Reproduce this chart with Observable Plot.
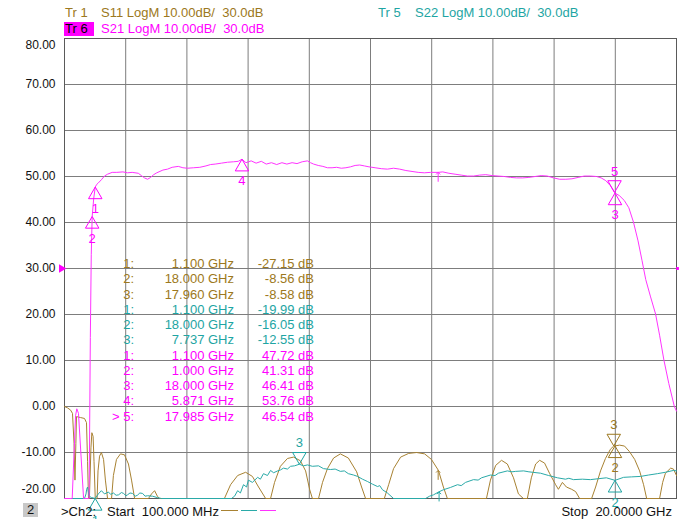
<!DOCTYPE html>
<html><head><meta charset="utf-8">
<script src="https://cdn.jsdelivr.net/npm/d3@7"></script>
<script src="https://cdn.jsdelivr.net/npm/@observablehq/plot@0.6"></script>
<style>
body{margin:0;background:#fff;}
#wrap{position:relative;width:684px;height:519px;font-family:"Liberation Sans",Arial,sans-serif;font-size:13px;overflow:hidden;background:#fff;}
#wrap svg{position:absolute;left:0;top:0;}
.t{position:absolute;white-space:pre;line-height:14px;height:14px;}
</style></head><body><div id="wrap"></div>
<script>
// ---------- data (GHz, dB) ----------
const s11 = [[0.1,0],[0.2,-0.3],[0.3,-0.8],[0.36,-1.5],[0.41,-8],[0.44,-16],[0.47,-8],[0.49,-2.2],[0.62,-2.4],[0.75,-2.6],[0.815,-3.5],[0.85,-12],[0.88,-22],[0.91,-22],[0.96,-9],[0.99,-5.7],[1.03,-6.5],[1.06,-12],[1.1,-27.15],[1.16,-22],[1.19,-14],[1.24,-10.8],[1.3,-10],[1.37,-11.5],[1.43,-16],[1.5,-22],[1.63,-22],[1.69,-15],[1.79,-11.5],[1.92,-10.3],[2.05,-10.5],[2.18,-12.5],[2.28,-16],[2.38,-22],[2.83,-22],[2.93,-19],[3.03,-18.3],[3.12,-19.5],[3.19,-22],[5.3,-22],[5.5,-17],[5.73,-15],[5.99,-14.3],[6.21,-15.2],[6.41,-17.5],[6.64,-22],[6.8,-22],[6.93,-16.5],[7.12,-13],[7.35,-11.3],[7.55,-11],[7.77,-11.8],[7.94,-14],[8.07,-18],[8.16,-22],[8.36,-22],[8.49,-16.5],[8.65,-13.5],[8.85,-11.2],[9.07,-10.3],[9.33,-11.2],[9.6,-14.2],[9.76,-17.5],[9.89,-22],[10.5,-22],[10.64,-17],[10.8,-13.5],[11.03,-11],[11.29,-10.2],[11.55,-10],[11.81,-10.3],[12.03,-11.5],[12.26,-13.9],[12.42,-17.5],[12.55,-22],[13.82,-22],[13.95,-16],[14.12,-12.8],[14.31,-11.7],[14.5,-12.5],[14.7,-15.5],[14.86,-19],[15.02,-22],[15.15,-22],[15.28,-15.5],[15.42,-12.5],[15.55,-11.7],[15.71,-12.3],[15.87,-14.5],[16.07,-17],[16.16,-18],[16.29,-16.5],[16.42,-17.5],[16.59,-18],[16.72,-18.5],[16.85,-22],[17.24,-22],[17.37,-17.5],[17.53,-14],[17.69,-11.3],[17.85,-9.3],[17.96,-8.58],[18.0,-8.56],[18.15,-8.4],[18.31,-8.6],[18.47,-9.8],[18.64,-11.5],[18.8,-14],[18.93,-17],[19.03,-22],[19.45,-22],[19.55,-16.5],[19.64,-14.5],[19.81,-13.4],[19.9,-13.6],[20.0,-15]];

const s22 = [[0.1,-25],[0.75,-25],[0.8,-19],[0.82,-18],[0.85,-17.5],[0.9,-19.5],[0.98,-19.8],[1.1,-19.99],[1.2,-19],[1.3,-18.3],[1.4,-19],[1.53,-18.6],[1.6,-19.1],[1.69,-18.8],[1.78,-19.3],[1.86,-19.2],[1.95,-18.7],[2.02,-18.9],[2.1,-19.4],[2.15,-19.2],[2.23,-18.8],[2.31,-18.9],[2.4,-19.5],[2.47,-19.3],[2.55,-18.8],[2.64,-18.9],[2.72,-19.5],[2.8,-19.4],[2.96,-19.5],[3.12,-19.8],[3.25,-21],[5.53,-21],[5.63,-19.5],[5.73,-18.3],[5.82,-18.8],[5.92,-17.0],[6.02,-17.5],[6.08,-16],[6.21,-16.5],[6.38,-15.4],[6.47,-15.8],[6.57,-14.6],[6.7,-15],[6.8,-13.9],[6.9,-14.4],[7.03,-14],[7.12,-13.8],[7.22,-13.4],[7.35,-13.6],[7.45,-13],[7.58,-12.9],[7.737,-12.55],[7.87,-12.9],[8.0,-12.7],[8.16,-13],[8.36,-12.9],[8.52,-13.5],[8.75,-13.7],[8.9,-13.6],[9.07,-14.1],[9.2,-14.0],[9.33,-14.6],[9.5,-14.9],[9.63,-15.2],[9.79,-15.8],[9.95,-16.3],[10.12,-16.9],[10.28,-17.4],[10.35,-17.2],[10.44,-18.1],[10.6,-18.8],[10.8,-21],[11.84,-21],[11.97,-19.5],[12.1,-19.2],[12.26,-18.6],[12.42,-18.1],[12.65,-17.6],[12.88,-17],[13.0,-17.2],[13.14,-16.5],[13.4,-15.9],[13.55,-16.0],[13.66,-15.5],[13.95,-14.9],[14.1,-15.0],[14.21,-14.5],[14.5,-14],[14.65,-14.2],[14.77,-14.1],[15.03,-14],[15.2,-14.2],[15.32,-14.3],[15.58,-14.5],[15.84,-15],[16.13,-15.5],[16.39,-15.8],[16.5,-15.6],[16.65,-15.9],[16.94,-15.8],[17.2,-15.9],[17.46,-15.7],[17.72,-15.5],[18.0,-16.05],[18.28,-15.4],[18.54,-15.3],[18.83,-15.2],[19.09,-14.9],[19.38,-14.6],[19.64,-14.3],[19.9,-13.9],[20.0,-14]];

const s21 = [[0.1,-25],[0.33,-25],[0.35,-20],[0.46,-2],[0.5,-0.5],[0.555,-1.5],[0.72,-20],[0.75,-25],[0.88,-25],[0.9,-20],[0.94,15],[0.97,33],[1.0,41.31],[1.05,45.2],[1.1,47.72],[1.15,48.3],[1.2,48.6],[1.3,49.3],[1.4,50.1],[1.5,50.5],[1.65,50.9],[1.8,50.9],[2.0,51.0],[2.15,50.8],[2.3,50.9],[2.5,50.7],[2.6,50.2],[2.7,49.7],[2.8,49.4],[2.9,49.8],[3.0,50.4],[3.1,50.8],[3.3,51.4],[3.45,51.6],[3.6,52.0],[3.8,52.2],[3.95,51.9],[4.1,51.8],[4.3,51.9],[4.5,52.0],[4.7,52.3],[4.85,52.6],[5.0,52.7],[5.2,52.9],[5.4,53.1],[5.6,53.2],[5.75,53.3],[5.871,53.76],[6.0,53.0],[6.17,53.4],[6.33,52.9],[6.5,53.3],[6.66,52.7],[6.83,53.0],[7.0,52.6],[7.17,53.0],[7.33,52.7],[7.5,53.0],[7.66,52.8],[7.83,53.2],[8.0,53.4],[8.1,53.0],[8.2,52.7],[8.35,52.4],[8.5,52.2],[8.65,51.9],[8.8,51.9],[8.95,52.0],[9.1,51.8],[9.25,51.9],[9.4,52.1],[9.55,52.4],[9.7,52.5],[9.85,52.3],[10.0,52.1],[10.2,51.9],[10.4,51.7],[10.6,51.6],[10.8,51.8],[11.0,51.6],[11.2,51.3],[11.4,51.1],[11.6,50.9],[11.8,50.8],[12.0,50.9],[12.25,50.9],[12.4,51.0],[12.6,50.7],[12.8,50.5],[13.0,50.3],[13.2,50.1],[13.4,50.1],[13.6,50.3],[13.8,50.4],[14.0,50.2],[14.2,50.1],[14.4,50.0],[14.6,49.8],[14.8,49.7],[15.0,49.7],[15.2,49.8],[15.4,50.0],[15.6,50.2],[15.8,50.1],[16.0,49.7],[16.2,49.4],[16.4,49.4],[16.6,49.5],[16.8,49.8],[17.0,50.1],[17.2,50.1],[17.4,50.0],[17.55,49.7],[17.7,49.1],[17.85,48.0],[17.985,46.54],[18.0,46.41],[18.15,45.8],[18.3,44.8],[18.45,43.2],[18.6,40.1],[18.75,36],[18.88,31.7],[19.0,27.6],[19.15,24],[19.32,20.1],[19.45,15.5],[19.59,10.1],[19.75,5],[19.93,0],[20.0,-1]];

// markers: trace, id, frequency (GHz), value (dB)
const markers = [["S11",1,1.1,-27.15],["S11",2,18.0,-8.56],["S11",3,17.96,-8.58],
  ["S22",1,1.1,-19.99],["S22",2,18.0,-16.05],["S22",3,7.737,-12.55],
  ["S21",1,1.1,47.72],["S21",2,1.0,41.31],["S21",3,18.0,46.41],["S21",4,5.871,53.76],["S21",5,17.985,46.54]];
const markersAbove = ["S11-3","S22-3","S21-5"];
const activeMarker = "S21-5";
// sweep-position arrows: trace, GHz, dB
const arrows = [["S11",12.25,-13.9],["S22",12.28,-18.6],["S21",12.25,50.9]];

const yTicks = [80,70,60,50,40,30,20,10,0,-10,-20];
const refLevel = 30;
const startF = 0.1, stopF = 20;
const traceOrder = ["S11","S22","S21"];
const headers = [["Tr 1","S11 LogM 10.00dB/  30.0dB"],["Tr 5","S22 LogM 10.00dB/  30.0dB"],["Tr 6","S21 LogM 10.00dB/  30.0dB"]];

// ---------- styles ----------
const txtCol = {S11:"#9c7820", S22:"#1ea5a3", S21:"#ff00ff"};
const lineCol = {S11:"#a88232", S22:"#2aaaa8", S21:"#ff33ff"};
const gridCol = "#7d7d7d";
const FONT = '"Liberation Sans", Arial, sans-serif';

const clampV = v => Math.max(-20, Math.min(80, v));
const rows = arr => arr.map(([f,v]) => ({f, v: clampV(v)}));
const xGrid = d3.range(11).map(i => startF + i*(stopF-startF)/10);
const mk = markers.map(([t,id,f,v]) => ({t,id,f,v,key:t+"-"+id})).filter(d => d.v >= -20);

const marks = [
  Plot.ruleX(xGrid, {stroke: gridCol, strokeWidth: 1}),
  Plot.ruleY(yTicks, {stroke: gridCol, strokeWidth: 1}),
  Plot.frame({stroke: "#5a5a5a"}),
  Plot.text(yTicks.filter(d => d > -20 && d < 80), {y: d => d, text: d => d.toFixed(2), frameAnchor: "left", textAnchor: "end", dx: -9, fontSize: 12, fill: "#111"}),
  Plot.text([80], {y: d => d, text: d => d.toFixed(2), frameAnchor: "left", textAnchor: "end", dx: -9, dy: 7, fontSize: 12, fill: "#111"}),
  Plot.text([-20], {y: d => d, text: d => d.toFixed(2), frameAnchor: "left", textAnchor: "end", dx: -9, dy: -9, fontSize: 12, fill: "#111"}),
  Plot.line(rows(s11), {x: "f", y: "v", stroke: lineCol.S11, strokeWidth: 1}),
  Plot.line(rows(s22), {x: "f", y: "v", stroke: lineCol.S22, strokeWidth: 1}),
  Plot.line(rows(s21), {x: "f", y: "v", stroke: lineCol.S21, strokeWidth: 1}),
  Plot.dot([refLevel], {y: d => d, frameAnchor: "left", symbol: "triangle", rotate: 90, r: 3.2, fill: "#ff00ff", stroke: "none", dx: -3}),
  Plot.dot([refLevel], {y: d => d, frameAnchor: "right", symbol: "square", r: 1.6, fill: "#ff00ff", stroke: "none", dx: 1})
];
for (const t of traceOrder) {
  const up = mk.filter(d => d.t === t && !markersAbove.includes(d.key));
  const dn = mk.filter(d => d.t === t && markersAbove.includes(d.key));
  marks.push(
    Plot.dot(up, {x: "f", y: "v", symbol: "triangle", r: 5, stroke: txtCol[t], fill: "none", strokeWidth: 1, dy: 7.8}),
    Plot.text(up, {x: "f", y: "v", text: d => String(d.id), fill: txtCol[t], fontSize: 13, dy: 22}),
    Plot.dot(dn, {x: "f", y: "v", symbol: "triangle", rotate: 180, r: 5, stroke: txtCol[t], fill: "none", strokeWidth: 1, dy: -7.8}),
    Plot.text(dn, {x: "f", y: "v", text: d => String(d.id), fill: txtCol[t], fontSize: 13, dy: -21})
  );
  marks.push(Plot.vector(arrows.filter(a => a[0] === t), {x: d => d[1], y: d => d[2], length: 9, rotate: 0, anchor: "end", stroke: lineCol[t], strokeWidth: 1}));
}

const chart = Plot.plot({
  width: 684, height: 519,
  marginLeft: 64, marginRight: 8, marginTop: 38, marginBottom: 21,
  x: {domain: [startF, stopF], axis: null},
  y: {domain: [-20, 80], axis: null},
  style: {background: "white", fontFamily: FONT, overflow: "visible"},
  marks
});
const wrap = document.getElementById("wrap");
wrap.appendChild(chart);

// ---------- HTML text overlays ----------
function addText(txt, css, color) {
  const d = document.createElement("div");
  d.className = "t";
  d.textContent = txt;
  Object.assign(d.style, css);
  if (color) d.style.color = color;
  wrap.appendChild(d);
  return d;
}
// header
addText(headers[0][0], {left: "65px", top: "6px"}, txtCol.S11);
addText(headers[0][1], {left: "101px", top: "6px"}, txtCol.S11);
addText(headers[1][0], {left: "378px", top: "6px"}, txtCol.S22);
addText(headers[1][1], {left: "415px", top: "6px"}, txtCol.S22);
addText(headers[2][0], {left: "64px", top: "22px", width: "30px", background: "#ff00ff", paddingLeft: "1px", boxSizing: "border-box"}, "#000");
addText(headers[2][1], {left: "101px", top: "22px"}, txtCol.S21);

// marker table
let r = 0;
for (const t of traceOrder) {
  markers.filter(m => m[0] === t).sort((a,b) => a[1]-b[1]).forEach(([tr,id,f,v]) => {
    const top = (257 + r*15.27).toFixed(1) + "px";
    const act = (tr+"-"+id) === activeMarker ? "> " : "";
    addText(act + id + ":", {right: (684-134)+"px", top, textAlign: "right"}, txtCol[t]);
    addText(f.toFixed(3) + " GHz", {right: (684-234)+"px", top, textAlign: "right"}, txtCol[t]);
    addText(v.toFixed(2) + " dB", {right: (684-314)+"px", top, textAlign: "right"}, txtCol[t]);
    r++;
  });
}

// footer
addText("2", {left: "23px", top: "503px", width: "15px", background: "#c8c8c8", textAlign: "center"}, "#111");
addText(">Ch2:", {left: "61px", top: "505px"}, "#111");
addText("Start  " + (startF*1000).toFixed(3) + " MHz", {left: "107px", top: "505px"}, "#111");
[["S11",221,238],["S22",241,257],["S21",260,276]].forEach(([t,a,b]) => {
  const d = document.createElement("div");
  Object.assign(d.style, {position: "absolute", left: a+"px", top: "510px", width: (b-a)+"px", height: "0", borderTop: "1.5px solid " + lineCol[t]});
  wrap.appendChild(d);
});
addText("Stop  " + stopF.toFixed(4) + " GHz", {right: (684-672)+"px", top: "505px", textAlign: "right"}, "#111");
</script></body></html>
